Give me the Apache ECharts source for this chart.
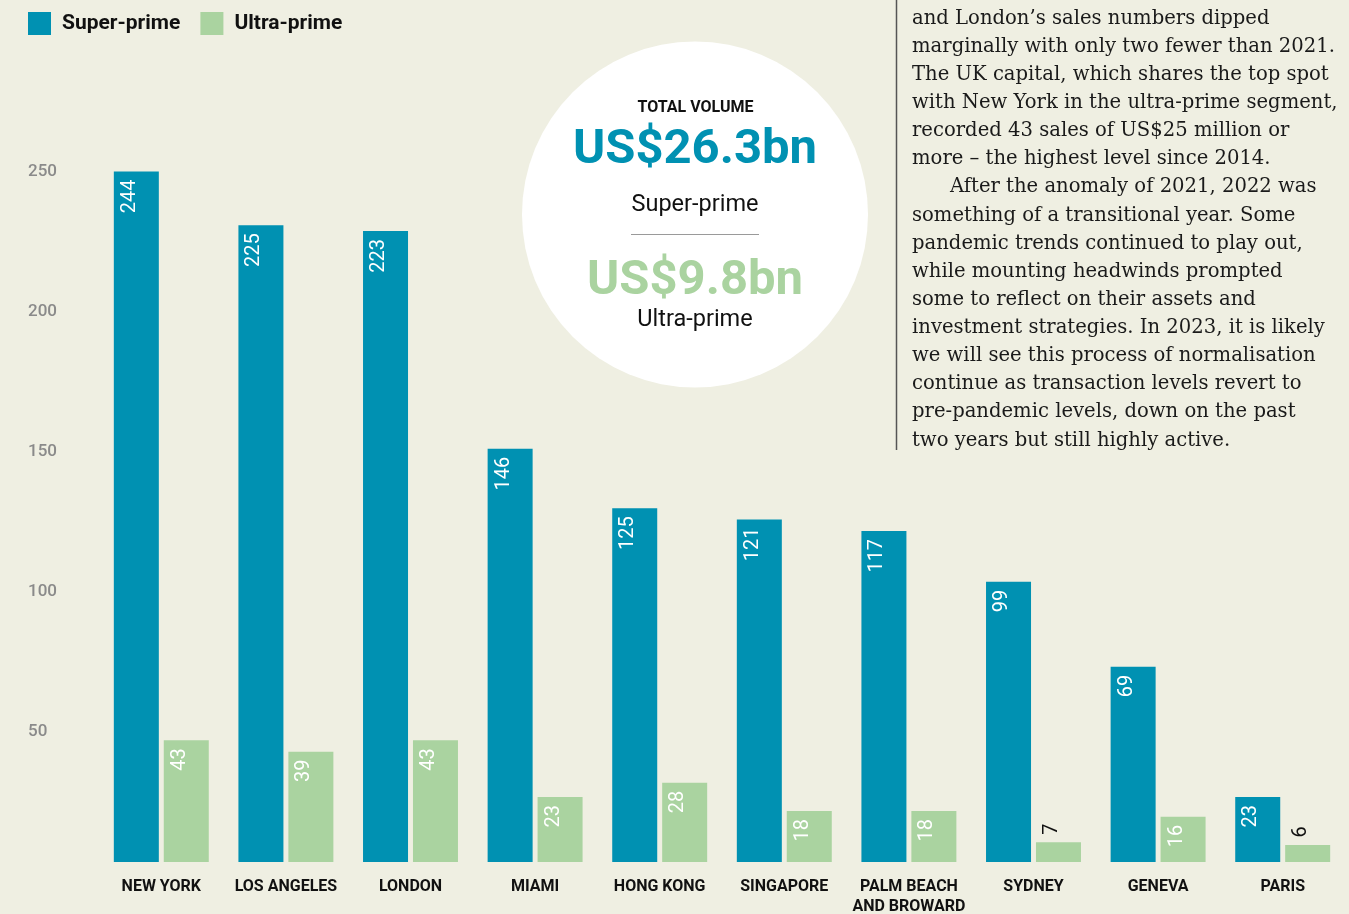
<!DOCTYPE html>
<html>
<head>
<meta charset="utf-8">
<script src="https://cdn.jsdelivr.net/npm/echarts@6/dist/echarts.min.js"></script>
<style>
  html, body { margin: 0; padding: 0; background: #efefe2; }
  #main { width: 1349px; height: 914px; }
</style>
</head>
<body>
<div id="main"></div>
<script>
// data
var cities = ['NEW YORK', 'LOS ANGELES', 'LONDON', 'MIAMI', 'HONG KONG', 'SINGAPORE',
  'PALM BEACH\nAND BROWARD', 'SYDNEY', 'GENEVA', 'PARIS'];
var superPrime = [244, 225, 223, 146, 125, 121, 117, 99, 69, 23];
var ultraPrime = [43, 39, 43, 23, 28, 18, 18, 7, 16, 6];
var yTicks = [50, 100, 150, 200, 250];

var totalSuper = 'US$26.3bn';
var totalUltra = 'US$9.8bn';

var bodyLines = [
  'and London\u2019s sales numbers dipped',
  'marginally with only two fewer than 2021.',
  'The UK capital, which shares the top spot',
  'with New York in the ultra-prime segment,',
  'recorded 43 sales of US$25 million or',
  'more \u2013 the highest level since 2014.',
  'After the anomaly of 2021, 2022 was',
  'something of a transitional year. Some',
  'pandemic trends continued to play out,',
  'while mounting headwinds prompted',
  'some to reflect on their assets and',
  'investment strategies. In 2023, it is likely',
  'we will see this process of normalisation',
  'continue as transaction levels revert to',
  'pre-pandemic levels, down on the past',
  'two years but still highly active.'
];

var BLUE = '#0091b2';
var GREEN = '#aad3a0';
var sans = 'Roboto, "Liberation Sans", Arial, sans-serif';

function barData(values) {
  return values.map(function(v) {
    if (v < 10) {
      // small bars: value sits above the bar
      return {
        value: v,
        label: { position: [16, -7.5], align: 'left', color: '#111' }
      };
    }
    return v;
  });
}

var chart = echarts.init(document.getElementById('main'));

var textEls = bodyLines.map(function(line, i) {
  return {
    type: 'text',
    x: i === 6 ? 950 : 912,
    y: 18.5 + i * 28.13,
    style: {
      text: line,
      fill: '#1a1a1a',
      font: '19.6px "DejaVu Serif", serif',
      verticalAlign: 'middle'
    }
  };
});

var option = {
  backgroundColor: '#efefe2',
  animation: false,
  legend: {
    left: 28,
    top: 12,
    padding: 0,
    itemWidth: 23,
    itemHeight: 23,
    itemGap: 20,
    icon: 'rect',
    data: ['Super-prime', 'Ultra-prime'],
    textStyle: { fontFamily: sans, fontSize: 21, fontWeight: 'bold', color: '#111', padding: [0, 0, 0, 6] }
  },
  grid: [
    { left: 99, right: 4, top: 154.5, bottom: 52, outerBoundsMode: 'none' },
    { left: 99, right: 4, top: 171.5, bottom: 42, outerBoundsMode: 'none' }
  ],
  xAxis: [
    {
      type: 'category',
      gridIndex: 0,
      data: cities,
      axisLine: { show: false },
      axisTick: { show: false },
      axisLabel: {
        margin: 15,
        interval: 0,
        fontFamily: sans,
        fontSize: 16,
        fontWeight: 'bold',
        color: '#111',
        lineHeight: 20
      }
    },
    { type: 'category', gridIndex: 1, data: [], show: false }
  ],
  yAxis: [
    { type: 'value', gridIndex: 0, min: 0, max: 250, show: false },
    {
      type: 'value',
      gridIndex: 1,
      min: 0,
      max: yTicks[yTicks.length - 1],
      interval: 50,
      axisLine: { show: false },
      axisTick: { show: false },
      splitLine: { show: false },
      axisLabel: {
        showMinLabel: false,
        align: 'left',
        margin: 71,
        fontFamily: sans,
        fontSize: 17,
        fontWeight: 500,
        color: '#8a8a8a'
      }
    }
  ],
  series: [
    {
      name: 'Super-prime',
      type: 'bar',
      xAxisIndex: 0,
      yAxisIndex: 0,
      barWidth: 45,
      barGap: '11%',
      itemStyle: { color: BLUE },
      label: {
        show: true,
        position: [16, 8],
        rotate: 90,
        align: 'right',
        verticalAlign: 'middle',
        fontFamily: sans,
        fontSize: 20,
        color: '#fff'
      },
      data: barData(superPrime)
    },
    {
      name: 'Ultra-prime',
      type: 'bar',
      xAxisIndex: 0,
      yAxisIndex: 0,
      barWidth: 45,
      barGap: '11%',
      itemStyle: { color: GREEN },
      label: {
        show: true,
        position: [16, 8],
        rotate: 90,
        align: 'right',
        verticalAlign: 'middle',
        fontFamily: sans,
        fontSize: 20,
        color: '#fff'
      },
      data: barData(ultraPrime)
    }
  ],
  graphic: [
    {
      type: 'circle',
      shape: { cx: 695, cy: 214.5, r: 173 },
      style: { fill: '#fff' },
      z: 0
    },
    {
      type: 'text', x: 695.5, y: 108,
      style: { text: 'TOTAL VOLUME', fill: '#111', font: 'bold 16px ' + sans, align: 'center', verticalAlign: 'middle' }
    },
    {
      type: 'text', x: 695, y: 151,
      style: { text: totalSuper, fill: BLUE, font: 'bold 49px ' + sans, align: 'center', verticalAlign: 'middle' }
    },
    {
      type: 'text', x: 695, y: 205,
      style: { text: 'Super-prime', fill: '#111', font: '23.5px ' + sans, align: 'center', verticalAlign: 'middle' }
    },
    {
      type: 'line',
      shape: { x1: 631, y1: 234.5, x2: 759, y2: 234.5 },
      style: { stroke: '#9a9a9a', lineWidth: 1 }
    },
    {
      type: 'text', x: 695, y: 282,
      style: { text: totalUltra, fill: GREEN, font: 'bold 49px ' + sans, align: 'center', verticalAlign: 'middle' }
    },
    {
      type: 'text', x: 695, y: 320,
      style: { text: 'Ultra-prime', fill: '#111', font: '23.5px ' + sans, align: 'center', verticalAlign: 'middle' }
    },
    {
      type: 'line',
      shape: { x1: 896.5, y1: 0, x2: 896.5, y2: 450 },
      style: { stroke: '#555', lineWidth: 1.5 }
    }
  ].concat(textEls)
};

chart.setOption(option);
</script>
</body>
</html>
